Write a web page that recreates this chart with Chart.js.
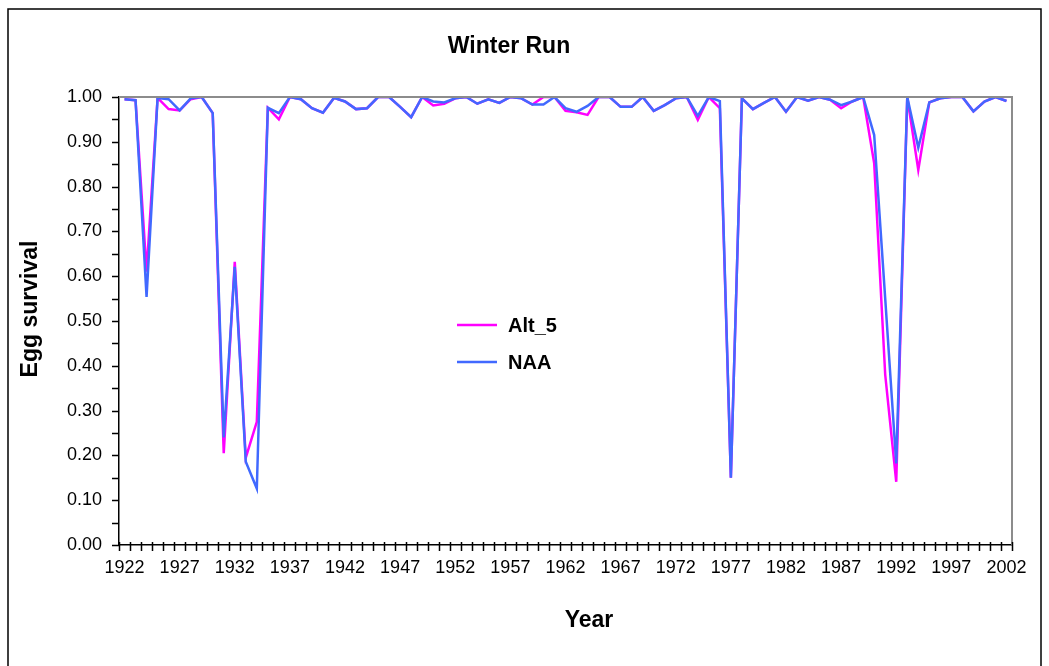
<!DOCTYPE html>
<html>
<head>
<meta charset="utf-8">
<title>Winter Run</title>
<script src="https://cdn.jsdelivr.net/npm/chart.js@4.4.0/dist/chart.umd.min.js"></script>
<style>
  html, body { margin: 0; padding: 0; background: #fff; }
  #wrap { width: 1049px; height: 666px; position: relative; }
</style>
</head>
<body>
<div id="wrap"><canvas id="chart" width="1049" height="666"></canvas></div>
<script>
// Water years on the category axis
const years = [
  1922, 1923, 1924, 1925, 1926, 1927, 1928, 1929, 1930, 1931,
  1932, 1933, 1934, 1935, 1936, 1937, 1938, 1939, 1940, 1941,
  1942, 1943, 1944, 1945, 1946, 1947, 1948, 1949, 1950, 1951,
  1952, 1953, 1954, 1955, 1956, 1957, 1958, 1959, 1960, 1961,
  1962, 1963, 1964, 1965, 1966, 1967, 1968, 1969, 1970, 1971,
  1972, 1973, 1974, 1975, 1976, 1977, 1978, 1979, 1980, 1981,
  1982, 1983, 1984, 1985, 1986, 1987, 1988, 1989, 1990, 1991,
  1992, 1993, 1994, 1995, 1996, 1997, 1998, 1999, 2000, 2001,
  2002
];

// Years that carry a tick label
const labeledYears = [1922, 1927, 1932, 1937, 1942, 1947, 1952, 1957, 1962, 1967,
                      1972, 1977, 1982, 1987, 1992, 1997, 2002];

// Egg survival, Alt_5 scenario
const alt5 = [
  0.995, 0.993, 0.610, 0.998, 0.973, 0.970, 0.995, 1.000, 0.964, 0.205,
  0.632, 0.195, 0.275, 0.976, 0.950, 1.000, 0.995, 0.975, 0.965, 0.998,
  0.990, 0.973, 0.975, 1.000, 1.000, 0.978, 0.955, 1.000, 0.981, 0.985,
  0.997, 1.000, 0.985, 0.995, 0.987, 1.000, 0.997, 0.983, 1.000, 1.000,
  0.969, 0.966, 0.960, 1.000, 1.000, 0.978, 0.978, 1.000, 0.969, 0.982,
  0.997, 1.000, 0.949, 1.000, 0.975, 0.150, 0.997, 0.973, 0.987, 1.000,
  0.967, 1.000, 0.992, 1.000, 0.994, 0.975, 0.990, 1.000, 0.852, 0.380,
  0.141, 1.000, 0.837, 0.988, 0.997, 1.000, 1.000, 0.968, 0.990, 1.000,
  0.991
];

// Egg survival, NAA scenario
const naa = [
  0.995, 0.993, 0.554, 0.998, 0.995, 0.970, 0.997, 1.000, 0.964, 0.240,
  0.621, 0.186, 0.126, 0.976, 0.964, 1.000, 0.995, 0.975, 0.965, 0.998,
  0.990, 0.973, 0.975, 1.000, 1.000, 0.978, 0.955, 1.000, 0.990, 0.988,
  0.997, 1.000, 0.985, 0.995, 0.987, 1.000, 0.997, 0.983, 0.983, 1.000,
  0.975, 0.967, 0.980, 1.000, 1.000, 0.978, 0.978, 1.000, 0.969, 0.982,
  0.997, 1.000, 0.958, 1.000, 0.991, 0.150, 0.997, 0.973, 0.987, 1.000,
  0.967, 1.000, 0.992, 1.000, 0.994, 0.982, 0.990, 1.000, 0.915, 0.550,
  0.182, 1.000, 0.887, 0.988, 0.997, 1.000, 1.000, 0.968, 0.990, 1.000,
  0.991
];

const FONT = '"Liberation Sans", Arial, Helvetica, sans-serif';

// White page with a thin black frame around the whole figure
const framePlugin = {
  id: 'frame',
  beforeDraw(chart) {
    const c = chart.ctx;
    c.save();
    c.fillStyle = '#fff';
    c.fillRect(0, 0, chart.width, chart.height);
    c.strokeStyle = '#000';
    c.lineWidth = 1.5;
    c.strokeRect(8, 9, 1033, 670);
    c.restore();
  }
};

// Gray plot-area edges (top and right) and the tick marks of both axes
const axesPlugin = {
  id: 'axesTicks',
  afterDraw(chart) {
    const c = chart.ctx;
    const a = chart.chartArea;
    const xs = chart.scales.x;
    const ys = chart.scales.y;
    c.save();
    c.strokeStyle = '#8c8c8c';
    c.lineWidth = 2;
    c.beginPath();
    c.moveTo(a.left, a.top);
    c.lineTo(a.right, a.top);
    c.lineTo(a.right, a.bottom);
    c.stroke();

    c.strokeStyle = '#000';
    c.lineWidth = 1.5;
    c.beginPath();
    // category boundaries on the x axis, crossing the axis line
    const step = xs.getPixelForValue(1) - xs.getPixelForValue(0);
    for (let i = 0; i <= years.length; i++) {
      const x = Math.round(xs.getPixelForValue(i) - step / 2) + 0.5;
      c.moveTo(x, a.bottom - 3);
      c.lineTo(x, a.bottom + 6);
    }
    // major and minor ticks on the y axis, outside
    for (let k = 0; k <= 20; k++) {
      const y = Math.round(ys.getPixelForValue(k * 0.05)) + 0.5;
      c.moveTo(a.left - 7, y);
      c.lineTo(a.left, y);
    }
    c.stroke();
    c.restore();
  }
};

// Chart title, axis titles and the in-plot legend
const textPlugin = {
  id: 'titleLegend',
  afterDraw(chart) {
    const c = chart.ctx;
    c.save();
    c.fillStyle = '#000';
    c.textBaseline = 'middle';
    c.textAlign = 'center';
    c.font = 'bold 23px ' + FONT;
    c.fillText('Winter Run', 509, 47);

    c.font = 'bold 23px ' + FONT;
    c.fillText('Year', 589, 621);

    c.save();
    c.translate(31, 309);
    c.rotate(-Math.PI / 2);
    c.fillText('Egg survival', 0, 0);
    c.restore();

    const items = chart.data.datasets;
    const rows = [325, 362];
    c.textAlign = 'left';
    c.font = 'bold 20px ' + FONT;
    items.forEach((ds, i) => {
      const y = rows[i];
      c.strokeStyle = ds.borderColor;
      c.lineWidth = ds.borderWidth;
      c.beginPath();
      c.moveTo(457, y);
      c.lineTo(497, y);
      c.stroke();
      c.fillText(ds.label, 508, y + 1);
    });
    c.restore();
  }
};

const ctx = document.getElementById('chart').getContext('2d');
new Chart(ctx, {
  type: 'line',
  data: {
    labels: years.map(String),
    datasets: [
      { label: 'Alt_5', data: alt5, borderColor: '#FF00FF', borderWidth: 2.5,
        pointRadius: 0, tension: 0, fill: false, order: 1 },
      { label: 'NAA', data: naa, borderColor: '#4169FF', borderWidth: 2.5,
        pointRadius: 0, tension: 0, fill: false, order: 0 }
    ]
  },
  options: {
    responsive: false,
    animation: false,
    devicePixelRatio: 1,
    layout: { padding: { left: 0, top: 97, right: 37, bottom: 0 } },
    plugins: {
      legend: { display: false },
      tooltip: { enabled: false },
      title: { display: false }
    },
    scales: {
      x: {
        type: 'category',
        offset: true,
        grid: { display: false, drawTicks: false, offset: true },
        border: { display: true, color: '#000', width: 1.5 },
        ticks: {
          autoSkip: false, maxRotation: 0, minRotation: 0, padding: 12,
          color: '#000', font: { family: FONT, size: 18 },
          callback(value, index) {
            const yr = years[index];
            return labeledYears.includes(yr) ? String(yr) : '';
          }
        },
        afterFit(scale) { scale.height = 121; }
      },
      y: {
        min: 0, max: 1,
        grid: { display: false, drawTicks: false },
        border: { display: true, color: '#000', width: 1.5 },
        ticks: {
          stepSize: 0.1, padding: 17, color: '#000',
          font: { family: FONT, size: 18 },
          callback: (v) => Number(v).toFixed(2)
        },
        afterFit(scale) { scale.width = 119; }
      }
    }
  },
  plugins: [framePlugin, axesPlugin, textPlugin]
});
</script>
</body>
</html>
